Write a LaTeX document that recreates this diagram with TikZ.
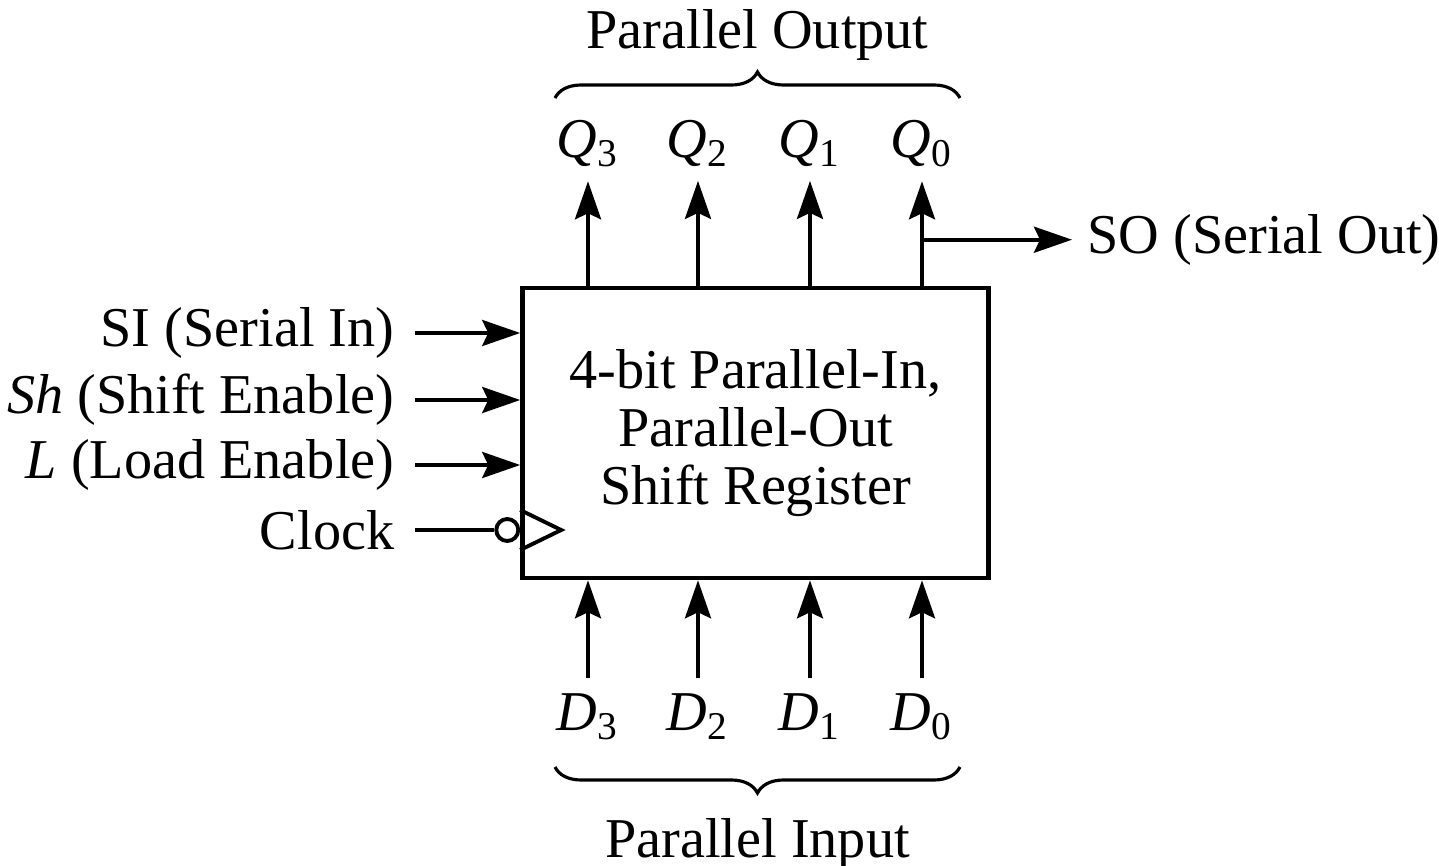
\documentclass[tikz,border=0pt]{standalone}
\usepackage{fontspec}
\setmainfont{Liberation Serif}
\usetikzlibrary{positioning,arrows.meta,decorations.pathreplacing}

\begin{document}
\begin{tikzpicture}[font=\fontsize{16}{17}\selectfont, block/.style={draw, line width=1.3pt, minimum width=4.66cm, minimum height=2.9cm, align=center, font=\fontsize{16}{16.5}\selectfont}, pin/.style={inner sep=4pt, anchor=base}, inlabel/.style={anchor=east, inner xsep=0.2cm, inner ysep=0pt}, wire/.style={-{Stealth[length=3.8mm, width=2.6mm, inset=0.6mm]}, line width=1.1pt}, brace/.style={decorate, decoration={brace, amplitude=0.26cm}, line width=0.9pt}]
\useasboundingbox (0,0) rectangle (14.39,8.65);
\node[block] (reg) at (7.555,4.32) {4-bit Parallel-In,\\Parallel-Out\\Shift Register};
% outputs on top
\node[pin] (q3) at (5.88,7.08) {\textit{Q}\textsubscript{3}};
\node[pin] (q2) at (6.98,7.08) {\textit{Q}\textsubscript{2}};
\node[pin] (q1) at (8.10,7.08) {\textit{Q}\textsubscript{1}};
\node[pin] (q0) at (9.22,7.08) {\textit{Q}\textsubscript{0}};
\foreach \n in {q3,q2,q1,q0} \draw[wire] (reg.north -| \n) -- (\n.south);
\path (reg.north -| q0) ++(0,0.46) coordinate (tap);
\node[right=1.5cm of tap, inner xsep=0.15cm] (so) {SO (Serial Out)};
\draw[wire] (tap) -- (so.west);
% inputs at the bottom
\node[pin] (d3) at (5.88,1.35) {\textit{D}\textsubscript{3}};
\node[pin] (d2) at (6.98,1.35) {\textit{D}\textsubscript{2}};
\node[pin] (d1) at (8.10,1.35) {\textit{D}\textsubscript{1}};
\node[pin] (d0) at (9.22,1.35) {\textit{D}\textsubscript{0}};
\foreach \n in {d3,d2,d1,d0} \draw[wire] (\n.north) -- (reg.south -| \n);
% control inputs
\node[inlabel] (si) at (4.15,5.32) {SI (Serial In)};
\node[inlabel] (sh) at (4.15,4.65) {\textit{Sh} (Shift Enable)};
\node[inlabel] (ld) at (4.15,4.00) {\textit{L} (Load Enable)};
\node[inlabel] (clk) at (4.15,3.35) {Clock};
\foreach \n in {si,sh,ld} \draw[wire] (\n.east) -- (reg.west |- \n.east);
\coordinate (ck) at (reg.west |- clk.east);
\node[draw, circle, line width=1.1pt, minimum size=0.22cm, inner sep=0pt, anchor=east] (bub) at (ck) {};
\draw[line width=1.1pt] (clk.east) -- (bub.west);
\draw[line width=1.1pt] ([yshift=0.2cm]ck) -- ([xshift=0.41cm]ck) -- ([yshift=-0.2cm]ck);
% braces
\coordinate (obl) at (5.55,7.67);
\coordinate (obr) at (9.60,7.67);
\coordinate (ibl) at (5.55,0.98);
\coordinate (ibr) at (9.60,0.98);
\draw[brace] (obl) -- (obr) node[midway, above=0.24cm] (pout) {Parallel Output};
\draw[brace] (ibr) -- (ibl) node[midway, below=0.38cm] (pin) {Parallel Input};
\end{tikzpicture}
\end{document}
